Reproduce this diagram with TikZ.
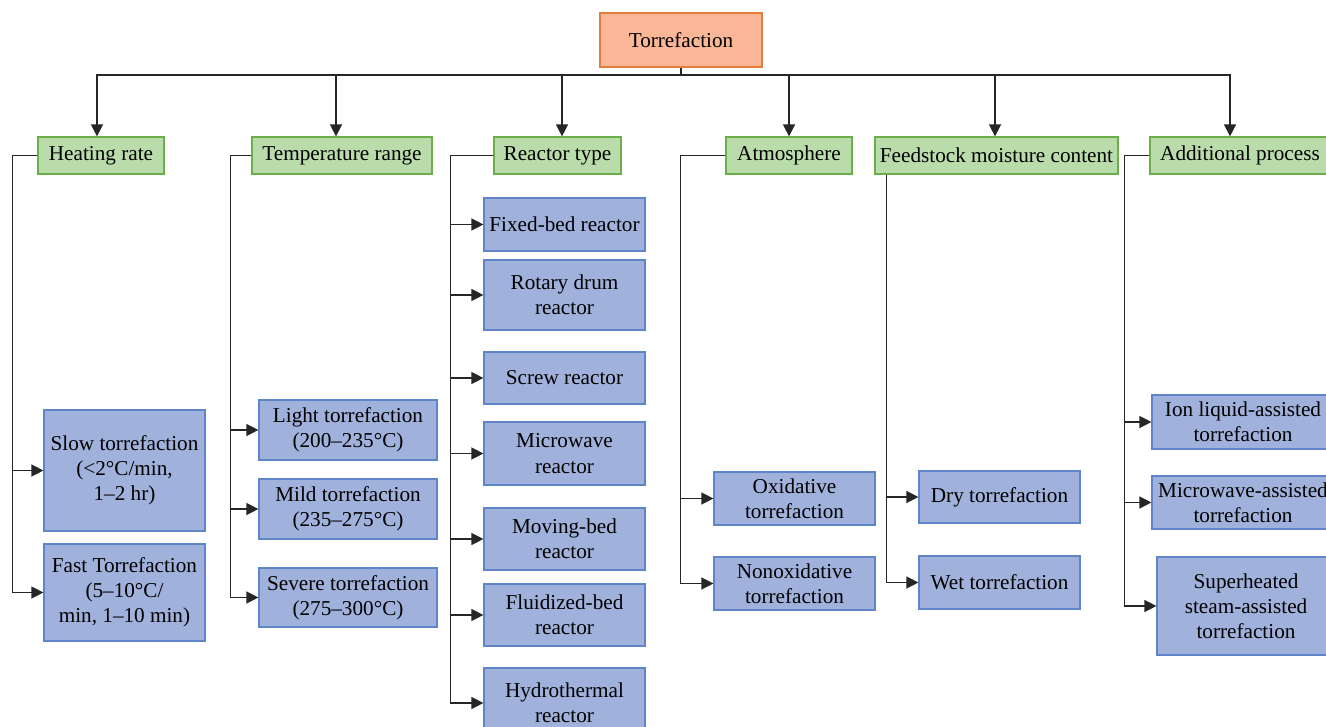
\documentclass[tikz,border=0pt]{standalone}
\usepackage{fontspec}
\setmainfont{Liberation Serif}
\usetikzlibrary{arrows.meta}

\definecolor{rootfill}{HTML}{F9B797}
\definecolor{rootline}{HTML}{E0803F}
\definecolor{catfill}{HTML}{BADCAB}
\definecolor{catline}{HTML}{6CAF4A}
\definecolor{leaffill}{HTML}{A0B1DC}
\definecolor{leafline}{HTML}{5F84C8}

\begin{document}
\begin{tikzpicture}[x=0.5pt, y=-0.5pt,
    font=\fontsize{10.6}{12.6}\selectfont,
    every node/.style={align=center, inner sep=1pt, line width=0.6pt},
    rootbox/.style={draw=rootline, fill=rootfill},
    catbox/.style={draw=catline, fill=catfill, minimum height=18.5pt},
    leafbox/.style={draw=leafline, fill=leaffill},
    arr/.style={-{Triangle[length=6pt,width=6pt]}, line width=0.7pt, draw=black!85}]
    \useasboundingbox (0,0) rectangle (1326,727);

    \node (root) at (681,40) [rootbox, minimum width=81pt, minimum height=27pt] {Torrefaction};
    \coordinate (bus) at (681,75);
    \draw[line width=0.7pt, black!85] (root) -- (bus);

    % categories
    \node (heat) at (101,155.5) [catbox, minimum width=63pt] {Heating rate};
    \draw[arr] (bus) -| ([xshift=-2pt]heat.north);

    \node (tmp) at (342,155.5) [catbox, minimum width=90pt] {Temperature range};
    \draw[arr] (bus) -| ([xshift=-3pt]tmp.north);

    \node (rt) at (557.5,155.5) [catbox, minimum width=63.5pt] {Reactor type};
    \draw[arr] (bus) -| ([xshift=2.25pt]rt.north);

    \node (atm) at (789,155.5) [catbox, minimum width=63pt] {Atmosphere};
    \draw[arr] (bus) -| (atm);

    \node (feed) at (996.5,155.5) [catbox, minimum width=121.5pt] {Feedstock moisture content};
    \draw[arr] (bus) -| ([xshift=-0.75pt]feed.north);

    \node (add) at (1240,155.5) [catbox, minimum width=90pt] {Additional process};
    \draw[arr] (bus) -| ([xshift=-5pt]add.north);

    % heating rate
    \node (slow) at (124.5,470.5) [leafbox, minimum width=80.5pt, minimum height=60.5pt] {Slow torrefaction\\(<2°C/min,\\1–2 hr)};
    \draw[arr] (heat.west) -- ++(-25,0) |- (slow);

    \node (fast) at (124.5,592.5) [leafbox, minimum width=80.5pt, minimum height=48.5pt] {Fast Torrefaction\\(5–10°C/\\min, 1–10 min)};
    \draw[arr] (heat.west) -- ++(-25,0) |- (fast);

    % temperature range
    \node (light) at (348,430) [leafbox, minimum width=89pt, minimum height=30pt] {Light torrefaction\\(200–235°C)};
    \draw[arr] (tmp.west) -- ++(-21,0) |- (light);

    \node (mild) at (348,509) [leafbox, minimum width=89pt, minimum height=30pt] {Mild torrefaction\\(235–275°C)};
    \draw[arr] (tmp.west) -- ++(-21,0) |- (mild);

    \node (severe) at (348,597.5) [leafbox, minimum width=89pt, minimum height=29.5pt] {Severe torrefaction\\(275–300°C)};
    \draw[arr] (tmp.west) -- ++(-21,0) |- (severe);

    % reactor type
    \node (fixed) at (564.5,224.5) [leafbox, minimum width=80.5pt, minimum height=26.5pt] {Fixed-bed reactor};
    \draw[arr] (rt.west) -- ++(-43,0) |- (fixed);

    \node (rotary) at (564.5,295) [leafbox, minimum width=80.5pt, minimum height=35pt] {Rotary drum\\reactor};
    \draw[arr] (rt.west) -- ++(-43,0) |- (rotary);

    \node (screw) at (564.5,378) [leafbox, minimum width=80.5pt, minimum height=26pt] {Screw reactor};
    \draw[arr] (rt.west) -- ++(-43,0) |- (screw);

    \node (micro) at (564.5,453.5) [leafbox, minimum width=80.5pt, minimum height=31.5pt] {Microwave\\reactor};
    \draw[arr] (rt.west) -- ++(-43,0) |- (micro);

    \node (moving) at (564.5,539) [leafbox, minimum width=80.5pt, minimum height=31pt] {Moving-bed\\reactor};
    \draw[arr] (rt.west) -- ++(-43,0) |- (moving);

    \node (fluid) at (564.5,615) [leafbox, minimum width=80.5pt, minimum height=31pt] {Fluidized-bed\\reactor};
    \draw[arr] (rt.west) -- ++(-43,0) |- (fluid);

    \node (hydro) at (564.5,703) [leafbox, minimum width=80.5pt, minimum height=35pt] {Hydrothermal\\reactor};
    \draw[arr] (rt.west) -- ++(-43,0) |- (hydro);

    % atmosphere
    \node (oxid) at (794.5,498.5) [leafbox, minimum width=80.5pt, minimum height=26.5pt] {Oxidative\\torrefaction};
    \draw[arr] (atm.west) -- ++(-45,0) |- (oxid);

    \node (nonox) at (794.5,583.5) [leafbox, minimum width=80.5pt, minimum height=26.5pt] {Nonoxidative\\torrefaction};
    \draw[arr] (atm.west) -- ++(-45,0) |- (nonox);

    % feedstock moisture content
    \node (dry) at (999.5,497) [leafbox, minimum width=80.5pt, minimum height=26pt] {Dry torrefaction};
    \draw[arr] (feed.south west) ++(12,0) |- (dry);

    \node (wet) at (999.5,582.5) [leafbox, minimum width=80.5pt, minimum height=26.5pt] {Wet torrefaction};
    \draw[arr] (feed.south west) ++(12,0) |- (wet);

    % additional process
    \node (ion) at (1243,422) [leafbox, minimum width=91pt, minimum height=27pt] {Ion liquid-assisted\\torrefaction};
    \draw[arr] (add.west) -- ++(-25,0) |- (ion);

    \node (mwa) at (1243,502.5) [leafbox, minimum width=91pt, minimum height=26.5pt] {Microwave-assisted\\torrefaction};
    \draw[arr] (add.west) -- ++(-25,0) |- (mwa);

    \node (steam) at (1246,606) [leafbox, minimum width=89pt, minimum height=49pt] {Superheated\\steam-assisted\\torrefaction};
    \draw[arr] (add.west) -- ++(-25,0) |- (steam);
  \end{tikzpicture}
\end{document}
